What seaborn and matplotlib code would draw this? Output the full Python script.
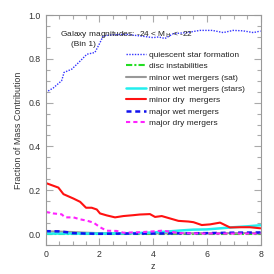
import numpy as np
import pandas as pd
import matplotlib
matplotlib.use("Agg")
import matplotlib.pyplot as plt
import seaborn as sns
from matplotlib.ticker import MultipleLocator

sns.set_style("ticks")
plt.rcParams['font.family'] = ['Liberation Sans', 'DejaVu Sans']

# quiescent star formation
z_q = [0.0, 0.28, 0.59, 0.64, 0.68, 0.97, 1.28, 1.53, 1.83, 2.02, 2.14, 2.5, 3.0, 3.5, 4.0, 4.2, 4.44, 4.75, 5.25, 5.74, 6.2, 6.61, 6.98, 7.35, 7.73, 8.0]
v_q = [0.647, 0.667, 0.70, 0.72, 0.738, 0.753, 0.79, 0.821, 0.829, 0.874, 0.905, 0.910, 0.912, 0.905, 0.897, 0.900, 0.893, 0.915, 0.920, 0.930, 0.930, 0.920, 0.930, 0.928, 0.920, 0.927]

# minor dry mergers
z_rd = [0.0, 0.47, 0.66, 1.03, 1.28, 1.5, 1.71, 1.9, 2.02, 2.27, 2.58, 2.89, 3.26, 3.5, 3.88, 4.07, 4.32, 4.63, 4.94, 5.31, 5.5, 5.81, 6.12, 6.49, 6.86, 7.23, 7.6, 8.0]
v_rd = [0.233, 0.212, 0.182, 0.162, 0.147, 0.120, 0.120, 0.112, 0.094, 0.085, 0.076, 0.082, 0.086, 0.089, 0.091, 0.078, 0.082, 0.071, 0.060, 0.057, 0.054, 0.041, 0.044, 0.052, 0.030, 0.031, 0.031, 0.026]

# major dry mergers
z_md = [0.0, 0.28, 0.59, 0.72, 1.03, 1.28, 1.53, 1.78, 2.02, 2.27, 2.64, 2.89, 3.5, 4.0, 4.32, 4.63, 5.0, 6.0, 7.0, 8.0]
v_md = [0.101, 0.094, 0.090, 0.076, 0.076, 0.067, 0.061, 0.052, 0.031, 0.015, 0.014, 0.006, 0.008, 0.012, 0.015, 0.011, 0.004, 0.002, 0.002, 0.002]

# minor wet mergers (stars)
z_cy = [0.0, 1.0, 2.0, 3.0, 4.0, 4.5, 5.0, 5.5, 6.0, 6.5, 7.0, 7.5, 8.0]
v_cy = [0.002, 0.002, 0.002, 0.003, 0.007, 0.011, 0.016, 0.020, 0.021, 0.026, 0.031, 0.035, 0.040]

# minor wet mergers (sat)
z_gr = [0.0, 0.5, 1.0, 1.5, 2.0, 3.0, 4.0, 5.0, 6.0, 7.0, 8.0]
v_gr = [0.012, 0.011, 0.009, 0.006, 0.004, 0.003, 0.003, 0.003, 0.004, 0.004, 0.005]

# major wet mergers
z_mw = [0.0, 0.5, 0.8, 1.0, 1.5, 2.0, 3.0, 4.0, 5.0, 6.0, 7.0, 8.0]
v_mw = [0.013, 0.012, 0.008, 0.004, 0.002, 0.001, 0.002, 0.002, 0.003, 0.004, 0.006, 0.007]

# disc instabilities
z_di = [0.0, 1.0, 2.0, 3.0, 4.0, 5.0, 6.0, 7.0, 8.0]
v_di = [0.001, 0.001, 0.001, 0.001, 0.001, 0.001, 0.001, 0.001, 0.001]

x_ticks = [0, 2, 4, 6, 8]
x_ticklabels = ['0', '2', '4', '6', '8']
y_ticks = [0.0, 0.2, 0.4, 0.6, 0.8, 1.0]
y_ticklabels = ['0.0', '0.2', '0.4', '0.6', '0.8', '1.0']

fig = plt.figure(figsize=(2.74, 2.74), dpi=100)
ax = fig.add_axes([0.167, 0.106, 0.784, 0.839])

fs = 6.0
sns.lineplot(x=z_q, y=v_q, ax=ax, color='#3333ff', linestyle=(0, (1, 1)), linewidth=1.0, label='quiescent star formation')
sns.lineplot(x=z_di, y=v_di, ax=ax, color='#22dd22', linestyle=(0, (3, 1, 1, 1)), linewidth=1.5, label='disc instabilities')
sns.lineplot(x=z_gr, y=v_gr, ax=ax, color='#999999', linestyle='-', linewidth=1.5, label='minor wet mergers (sat)')
sns.lineplot(x=z_cy, y=v_cy, ax=ax, color='#22eeee', linestyle='-', linewidth=1.8, label='minor wet mergers (stars)')
sns.lineplot(x=z_rd, y=v_rd, ax=ax, color='#ff1111', linestyle='-', linewidth=1.5, label='minor dry  mergers')
sns.lineplot(x=z_mw, y=v_mw, ax=ax, color='#1111ee', linestyle=(0, (2, 1.5)), linewidth=1.8, label='major wet mergers')
sns.lineplot(x=z_md, y=v_md, ax=ax, color='#ff22ff', linestyle=(0, (2, 1.5)), linewidth=1.5, label='major dry mergers')

ax.set_xlim(0, 8)
ax.set_ylim(-0.05, 1.0)
ax.set_xticks(x_ticks)
ax.set_xticklabels(x_ticklabels)
ax.set_yticks(y_ticks)
ax.set_yticklabels(y_ticklabels)
ax.xaxis.set_minor_locator(MultipleLocator(0.5))
ax.yaxis.set_minor_locator(MultipleLocator(0.05))
ax.tick_params(which='both', direction='in', top=True, right=True, color='#aaaaaa', labelsize=fs + 0.3, labelcolor='#333333', width=0.8)
ax.tick_params(which='major', length=5)
ax.tick_params(which='minor', length=3)
for s in ax.spines.values():
    s.set_color('#999999')
    s.set_linewidth(0.8)

ax.set_xlabel('z', fontsize=fs + 0.4, color='#333333', labelpad=2)
ax.set_ylabel('Fraction of Mass Contribution', fontsize=fs + 0.4, color='#333333', labelpad=4)

ax.text(0.53, 0.913, r'Galaxy magnitudes: -24 < M$_{\rm H}$ < -22', fontsize=fs, color='#222222', va='center', ha='left')
ax.text(1.4, 0.864, '(Bin 1)', fontsize=fs, color='#222222', va='center', ha='center')

leg = ax.legend(loc='upper left', bbox_to_anchor=(0.36, 0.858), frameon=False, fontsize=fs,
                handlelength=2.4, handletextpad=0.3, labelspacing=0.42, borderaxespad=0)
for t in leg.get_texts():
    t.set_color('#222222')

fig.savefig('out.png', dpi=100)
